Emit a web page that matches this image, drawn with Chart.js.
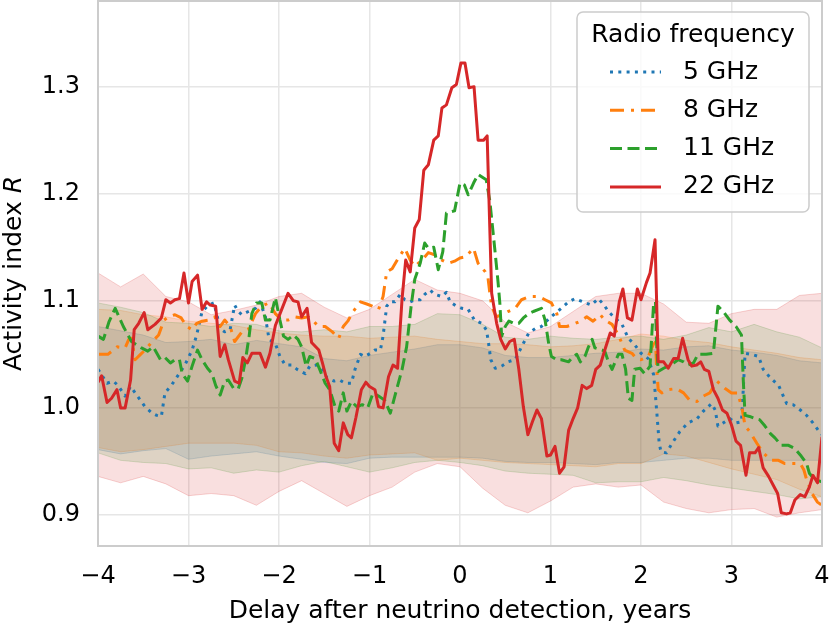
<!DOCTYPE html>
<html>
<head>
<meta charset="utf-8">
<script src="https://cdn.jsdelivr.net/npm/chart.js@4.4.1/dist/chart.umd.min.js"></script>
<style>html,body{margin:0;padding:0;background:#fff}</style>
</head>
<body>
<canvas id="graficoAtividade" width="831" height="626"></canvas>
<script>
// dados
const freqLabels = ['5 GHz', '8 GHz', '11 GHz', '22 GHz'];
const xTicks = [-4, -3, -2, -1, 0, 1, 2, 3, 4];
const yTicks = [0.9, 1.0, 1.1, 1.2, 1.3];
const xTitle = 'Delay after neutrino detection, years';
const yTitle = 'Activity index ';
const yTitleVar = 'R';
const legendTitle = 'Radio frequency';

const delay5 = [-4.0,-3.9,-3.83,-3.78,-3.7,-3.64,-3.59,-3.48,-3.4,-3.35,-3.3,-3.26,-3.19,-3.11,-3.04,-2.96,-2.91,-2.85,-2.78,-2.72,-2.69,-2.65,-2.6,-2.54,-2.49,-2.45,-2.41,-2.34,-2.26,-2.21,-2.15,-2.11,-2.04,-1.99,-1.93,-1.86,-1.8,-1.71,-1.66,-1.58,-1.52,-1.47,-1.39,-1.33,-1.27,-1.2,-1.16,-1.1,-1.05,-0.99,-0.94,-0.88,-0.85,-0.81,-0.77,-0.72,-0.66,-0.61,-0.55,-0.5,-0.44,-0.39,-0.33,-0.28,-0.2,-0.15,-0.11,-0.04,0.02,0.09,0.16,0.24,0.29,0.31,0.34,0.39,0.46,0.53,0.61,0.68,0.76,0.83,0.9,0.99,1.05,1.12,1.2,1.27,1.36,1.45,1.53,1.6,1.64,1.71,1.79,1.86,1.93,2.0,2.08,2.14,2.16,2.18,2.2,2.22,2.28,2.36,2.43,2.52,2.62,2.69,2.78,2.82,2.85,2.91,2.98,3.05,3.11,3.13,3.15,3.22,3.3,3.35,3.43,3.52,3.61,3.68,3.76,3.83,3.9,3.96,4.0];
const r5 = [1.036,1.023,1.025,1.021,1.011,1.02,1.014,1.001,0.995,0.993,0.992,1.014,1.021,1.031,1.04,1.054,1.068,1.09,1.096,1.098,1.088,1.074,1.071,1.073,1.096,1.09,1.087,1.09,1.093,1.099,1.085,1.064,1.06,1.048,1.04,1.04,1.036,1.032,1.039,1.04,1.036,1.028,1.025,1.026,1.023,1.023,1.036,1.05,1.048,1.051,1.054,1.054,1.067,1.095,1.099,1.099,1.106,1.101,1.099,1.101,1.101,1.106,1.11,1.106,1.104,1.108,1.099,1.095,1.093,1.092,1.082,1.079,1.073,1.064,1.045,1.037,1.039,1.043,1.045,1.057,1.07,1.074,1.076,1.084,1.088,1.093,1.099,1.102,1.099,1.096,1.102,1.095,1.09,1.084,1.078,1.065,1.059,1.051,1.046,1.031,1.011,0.99,0.968,0.959,0.958,0.969,0.978,0.986,0.99,0.997,1.004,0.998,0.983,0.986,0.99,0.986,0.987,1.017,1.051,1.05,1.048,1.036,1.028,1.021,1.004,1.003,0.998,0.993,0.986,0.979,0.975];

const delay8 = [-4.0,-3.89,-3.79,-3.7,-3.66,-3.63,-3.59,-3.53,-3.48,-3.4,-3.33,-3.27,-3.22,-3.15,-3.08,-3.02,-2.96,-2.91,-2.85,-2.78,-2.71,-2.65,-2.6,-2.54,-2.49,-2.41,-2.34,-2.26,-2.19,-2.11,-2.04,-1.97,-1.9,-1.82,-1.75,-1.68,-1.62,-1.56,-1.49,-1.41,-1.34,-1.29,-1.24,-1.18,-1.1,-1.03,-0.97,-0.9,-0.85,-0.81,-0.75,-0.68,-0.61,-0.55,-0.5,-0.42,-0.35,-0.28,-0.2,-0.13,-0.06,0.0,0.06,0.15,0.2,0.28,0.31,0.33,0.35,0.4,0.46,0.53,0.61,0.68,0.77,0.87,0.94,1.01,1.07,1.1,1.18,1.25,1.33,1.4,1.47,1.55,1.6,1.68,1.73,1.77,1.82,1.9,1.95,2.0,2.08,2.14,2.16,2.17,2.19,2.23,2.3,2.39,2.47,2.54,2.62,2.69,2.76,2.84,2.93,3.0,3.07,3.12,3.15,3.2,3.28,3.35,3.44,3.52,3.59,3.66,3.76,3.8,3.83,3.89,3.95,4.0];
const r8 = [1.05,1.05,1.057,1.056,1.064,1.065,1.045,1.05,1.054,1.062,1.068,1.082,1.085,1.087,1.084,1.076,1.073,1.079,1.081,1.082,1.085,1.076,1.082,1.076,1.062,1.071,1.073,1.088,1.095,1.098,1.088,1.082,1.082,1.085,1.084,1.085,1.081,1.076,1.076,1.071,1.065,1.076,1.081,1.09,1.099,1.097,1.095,1.092,1.104,1.127,1.13,1.14,1.149,1.138,1.132,1.138,1.145,1.143,1.138,1.135,1.137,1.14,1.141,1.149,1.135,1.127,1.121,1.107,1.095,1.085,1.087,1.09,1.093,1.101,1.104,1.104,1.101,1.098,1.088,1.076,1.076,1.078,1.081,1.085,1.081,1.087,1.082,1.078,1.071,1.064,1.054,1.051,1.046,1.045,1.048,1.06,1.065,1.042,1.017,1.014,1.017,1.018,1.014,1.007,1.006,1.011,1.014,1.025,1.018,1.014,1.014,0.998,0.983,0.978,0.967,0.958,0.951,0.951,0.948,0.948,0.948,0.942,0.933,0.92,0.912,0.909];

const delay11 = [-4.0,-3.94,-3.88,-3.81,-3.72,-3.63,-3.52,-3.45,-3.39,-3.31,-3.26,-3.2,-3.15,-3.1,-3.07,-3.01,-2.96,-2.9,-2.85,-2.79,-2.74,-2.7,-2.65,-2.6,-2.56,-2.5,-2.45,-2.41,-2.37,-2.33,-2.3,-2.25,-2.19,-2.15,-2.1,-2.04,-1.99,-1.95,-1.9,-1.84,-1.79,-1.75,-1.7,-1.66,-1.6,-1.55,-1.49,-1.44,-1.38,-1.34,-1.29,-1.25,-1.2,-1.14,-1.08,-1.02,-0.96,-0.9,-0.83,-0.77,-0.72,-0.64,-0.59,-0.54,-0.5,-0.44,-0.39,-0.35,-0.29,-0.24,-0.19,-0.15,-0.06,0.0,0.05,0.09,0.15,0.2,0.29,0.33,0.38,0.42,0.44,0.46,0.5,0.54,0.59,0.65,0.7,0.76,0.81,0.87,0.9,0.94,0.98,1.01,1.07,1.12,1.2,1.25,1.29,1.33,1.38,1.42,1.46,1.49,1.57,1.6,1.64,1.68,1.71,1.75,1.79,1.83,1.86,1.9,1.93,1.99,2.04,2.1,2.14,2.16,2.17,2.19,2.25,2.3,2.36,2.41,2.47,2.52,2.58,2.63,2.72,2.8,2.85,2.91,2.98,3.05,3.11,3.13,3.15,3.2,3.26,3.31,3.37,3.43,3.48,3.55,3.63,3.7,3.77,3.83,3.86,3.92,4.0];
const r11 = [1.067,1.064,1.08,1.093,1.076,1.062,1.056,1.053,1.057,1.045,1.047,1.042,1.045,1.045,1.032,1.025,1.039,1.054,1.045,1.037,1.032,1.021,1.012,1.025,1.026,1.018,1.018,1.028,1.045,1.067,1.088,1.098,1.098,1.082,1.082,1.103,1.082,1.067,1.064,1.068,1.064,1.057,1.039,1.048,1.046,1.036,1.023,1.017,1.001,0.997,1.014,0.997,1.006,1.001,1.003,1.0,1.014,1.011,1.007,0.995,1.011,1.036,1.057,1.095,1.12,1.135,1.154,1.149,1.15,1.129,1.146,1.182,1.184,1.21,1.208,1.199,1.21,1.218,1.213,1.193,1.152,1.118,1.098,1.067,1.076,1.081,1.079,1.079,1.084,1.088,1.09,1.092,1.093,1.082,1.06,1.048,1.045,1.045,1.043,1.048,1.05,1.043,1.048,1.057,1.064,1.056,1.054,1.053,1.043,1.036,1.042,1.05,1.05,1.036,1.009,1.007,1.036,1.037,1.032,1.039,1.099,1.099,1.064,1.034,1.037,1.039,1.042,1.045,1.043,1.04,1.042,1.05,1.05,1.051,1.095,1.09,1.082,1.076,1.068,1.026,0.993,0.992,0.99,0.989,0.983,0.976,0.972,0.965,0.965,0.962,0.955,0.948,0.939,0.933,0.931];

const delay22 = [-4.0,-3.96,-3.9,-3.85,-3.79,-3.75,-3.7,-3.64,-3.6,-3.55,-3.49,-3.45,-3.37,-3.3,-3.25,-3.2,-3.15,-3.1,-3.05,-3.0,-2.96,-2.9,-2.85,-2.8,-2.76,-2.7,-2.65,-2.6,-2.56,-2.49,-2.44,-2.4,-2.35,-2.3,-2.21,-2.15,-2.1,-2.04,-1.97,-1.9,-1.84,-1.79,-1.75,-1.69,-1.64,-1.56,-1.52,-1.48,-1.44,-1.39,-1.34,-1.29,-1.24,-1.2,-1.15,-1.09,-1.04,-1.0,-0.94,-0.9,-0.85,-0.79,-0.74,-0.69,-0.64,-0.6,-0.55,-0.5,-0.45,-0.4,-0.35,-0.29,-0.24,-0.2,-0.15,-0.09,-0.04,0.01,0.055,0.1,0.155,0.2,0.26,0.3,0.35,0.405,0.45,0.5,0.55,0.6,0.65,0.7,0.75,0.8,0.85,0.9,0.96,1.0,1.05,1.1,1.15,1.2,1.25,1.3,1.35,1.4,1.455,1.5,1.55,1.6,1.66,1.705,1.76,1.8,1.85,1.9,1.96,2.0,2.06,2.1,2.155,2.19,2.25,2.3,2.36,2.41,2.46,2.52,2.56,2.615,2.66,2.7,2.75,2.8,2.85,2.9,2.95,3.0,3.05,3.1,3.16,3.2,3.26,3.3,3.35,3.41,3.46,3.51,3.55,3.61,3.65,3.7,3.76,3.81,3.86,3.9,3.95,4.0];
const r22 = [1.024,1.03,1.005,1.009,1.017,1.0,1.0,1.026,1.073,1.079,1.089,1.073,1.078,1.084,1.101,1.098,1.101,1.102,1.126,1.098,1.118,1.124,1.092,1.099,1.096,1.095,1.048,1.059,1.045,1.025,1.023,1.047,1.042,1.051,1.051,1.038,1.051,1.077,1.092,1.107,1.1,1.099,1.085,1.093,1.061,1.054,1.042,1.029,1.02,0.967,0.96,0.986,0.975,0.972,0.991,1.017,1.024,1.02,1.017,1.001,1.0,1.029,1.04,1.037,1.102,1.138,1.127,1.168,1.176,1.222,1.227,1.25,1.254,1.28,1.283,1.299,1.302,1.322,1.322,1.299,1.3,1.25,1.25,1.254,1.107,1.079,1.064,1.055,1.062,1.064,1.036,1.001,0.975,0.987,0.998,0.99,0.955,0.956,0.964,0.939,0.945,0.979,0.99,1.0,1.021,1.018,1.021,1.036,1.04,1.054,1.07,1.067,1.099,1.111,1.084,1.082,1.111,1.101,1.117,1.126,1.157,1.043,1.043,1.037,1.046,1.046,1.065,1.045,1.039,1.04,1.043,1.036,1.034,1.017,1.009,0.998,0.995,0.984,0.969,0.965,0.937,0.958,0.958,0.963,0.944,0.936,0.928,0.92,0.902,0.901,0.902,0.914,0.919,0.917,0.926,0.937,0.93,0.973];

// faixas (intervalo de confianca) de cada frequencia
const bandDelay = [-4,-3.75,-3.5,-3.25,-3,-2.75,-2.5,-2.25,-2,-1.75,-1.5,-1.25,-1,-0.75,-0.5,-0.25,0,0.25,0.5,0.75,1,1.25,1.5,1.75,2,2.25,2.5,2.75,3,3.25,3.5,3.75,4];
const upper5 = [1.076,1.072,1.068,1.061,1.062,1.064,1.059,1.063,1.06,1.057,1.046,1.044,1.049,1.052,1.055,1.059,1.059,1.056,1.049,1.047,1.047,1.049,1.051,1.052,1.055,1.054,1.057,1.058,1.054,1.052,1.049,1.044,1.042];
const lower5 = [0.961,0.957,0.96,0.962,0.952,0.955,0.957,0.959,0.955,0.952,0.949,0.948,0.953,0.954,0.954,0.954,0.954,0.953,0.95,0.949,0.949,0.948,0.947,0.949,0.949,0.951,0.953,0.953,0.951,0.951,0.951,0.951,0.951];
const upper8 = [1.092,1.091,1.087,1.085,1.081,1.079,1.077,1.073,1.07,1.068,1.067,1.067,1.065,1.066,1.067,1.064,1.062,1.06,1.06,1.059,1.057,1.058,1.06,1.064,1.069,1.067,1.063,1.061,1.057,1.054,1.051,1.047,1.045];
const lower8 = [0.963,0.959,0.961,0.964,0.967,0.967,0.967,0.965,0.959,0.958,0.955,0.953,0.956,0.957,0.958,0.951,0.953,0.951,0.949,0.948,0.947,0.946,0.945,0.948,0.948,0.957,0.955,0.949,0.943,0.938,0.933,0.924,0.917];
const upper11 = [1.098,1.094,1.089,1.08,1.079,1.076,1.079,1.078,1.072,1.071,1.073,1.071,1.076,1.076,1.078,1.088,1.087,1.078,1.066,1.064,1.067,1.065,1.064,1.066,1.067,1.064,1.068,1.075,1.071,1.078,1.071,1.066,1.056];
const lower11 = [0.958,0.951,0.949,0.948,0.943,0.944,0.939,0.942,0.94,0.946,0.95,0.945,0.94,0.944,0.949,0.951,0.949,0.946,0.941,0.939,0.938,0.937,0.93,0.931,0.931,0.935,0.932,0.928,0.925,0.922,0.919,0.915,0.917];
const upper22 = [1.126,1.113,1.125,1.104,1.099,1.087,1.091,1.096,1.104,1.107,1.094,1.084,1.092,1.106,1.12,1.11,1.107,1.1,1.08,1.07,1.076,1.09,1.104,1.107,1.107,1.097,1.08,1.079,1.088,1.092,1.092,1.105,1.107];
const lower22 = [0.936,0.93,0.936,0.929,0.918,0.92,0.918,0.909,0.922,0.932,0.92,0.908,0.918,0.926,0.94,0.948,0.945,0.925,0.909,0.902,0.913,0.926,0.929,0.926,0.928,0.912,0.906,0.902,0.905,0.906,0.898,0.902,0.905];

// cores padrao (tab10)
const cores = ['31,119,180', '255,127,14', '44,160,44', '214,39,40'];
const tracos = [[3, 5.3], [14, 7, 3, 7], [12, 5.5], []];
const fonte = '"DejaVu Sans", sans-serif';

function pontos(xs, ys) {
  return xs.map((x, i) => ({ x: x, y: ys[i] }));
}

const linhasX = [delay5, delay8, delay11, delay22];
const linhasY = [r5, r8, r11, r22];
const faixasSup = [upper5, upper8, upper11, upper22];
const faixasInf = [lower5, lower8, lower11, lower22];

let datasets = [];
for (let k = 0; k < 4; k++) {
  datasets.push({
    label: 'band_up_' + k,
    data: pontos(bandDelay, faixasSup[k]),
    borderColor: 'rgba(' + cores[k] + ',0.2)',
    backgroundColor: 'rgba(' + cores[k] + ',0.15)',
    borderWidth: 1,
    fill: '+1',
    order: 20 - k
  });
  datasets.push({
    label: 'band_lo_' + k,
    data: pontos(bandDelay, faixasInf[k]),
    borderColor: 'rgba(' + cores[k] + ',0.2)',
    borderWidth: 1,
    fill: false,
    order: 20 - k
  });
}
for (let k = 0; k < 4; k++) {
  datasets.push({
    label: freqLabels[k],
    data: pontos(linhasX[k], linhasY[k]),
    borderColor: 'rgb(' + cores[k] + ')',
    borderWidth: 3,
    borderDash: tracos[k],
    fill: false,
    order: 4 - k
  });
}

// moldura, titulo do eixo y e legenda
const extras = {
  id: 'extras',
  afterDraw(chart) {
    const ctx = chart.ctx;
    const a = chart.chartArea;
    ctx.save();
    ctx.strokeStyle = '#cccccc';
    ctx.lineWidth = 2;
    ctx.strokeRect(a.left, a.top, a.right - a.left, a.bottom - a.top);

    // titulo y com R em italico
    ctx.save();
    ctx.translate(20.5, (a.top + a.bottom) / 2);
    ctx.rotate(-Math.PI / 2);
    ctx.fillStyle = '#000';
    ctx.textBaseline = 'alphabetic';
    ctx.textAlign = 'left';
    ctx.font = '25px ' + fonte;
    const w1 = ctx.measureText(yTitle).width;
    ctx.font = 'italic 25px ' + fonte;
    const w2 = ctx.measureText(yTitleVar).width;
    const x0 = -(w1 + w2) / 2;
    ctx.font = '25px ' + fonte;
    ctx.fillText(yTitle, x0, 0);
    ctx.font = 'italic 25px ' + fonte;
    ctx.fillText(yTitleVar, x0 + w1, 0);
    ctx.restore();

    // legenda
    const bx = a.right - 245, by = a.top + 11, bw = 232, bh = 200;
    ctx.beginPath();
    ctx.roundRect(bx, by, bw, bh, 6);
    ctx.fillStyle = 'rgba(255,255,255,0.8)';
    ctx.fill();
    ctx.strokeStyle = '#cccccc';
    ctx.lineWidth = 1.5;
    ctx.stroke();
    ctx.fillStyle = '#000';
    ctx.font = '25px ' + fonte;
    ctx.textAlign = 'center';
    ctx.textBaseline = 'middle';
    ctx.fillText(legendTitle, bx + bw / 2, by + 23);
    ctx.textAlign = 'left';
    for (let k = 0; k < 4; k++) {
      const yy = by + 60 + k * 38.3;
      ctx.strokeStyle = 'rgb(' + cores[k] + ')';
      ctx.lineWidth = 3;
      ctx.setLineDash(tracos[k]);
      ctx.beginPath();
      ctx.moveTo(bx + 33, yy);
      ctx.lineTo(bx + 84, yy);
      ctx.stroke();
      ctx.setLineDash([]);
      ctx.fillText(freqLabels[k], bx + 106, yy);
    }
    ctx.restore();
  }
};

const ctx = document.getElementById('graficoAtividade');

new Chart(ctx, {
  type: 'line',
  data: { datasets: datasets },
  options: {
    responsive: false,
    animation: false,
    devicePixelRatio: 1,
    layout: { padding: { top: 1, right: 9, left: 0, bottom: 0 } },
    elements: {
      point: { radius: 0, hoverRadius: 0 },
      line: { tension: 0, borderCapStyle: 'butt', borderJoinStyle: 'round' }
    },
    plugins: {
      legend: { display: false },
      tooltip: { enabled: false }
    },
    scales: {
      x: {
        type: 'linear',
        min: -4,
        max: 4,
        afterBuildTicks: s => { s.ticks = xTicks.map(v => ({ value: v })); },
        afterFit: s => { s.height = 80; s.paddingLeft = 0; s.paddingRight = 0; },
        grid: { color: '#e6e6e6', lineWidth: 1.5, drawTicks: false },
        border: { display: false },
        ticks: {
          padding: 16,
          color: '#000',
          maxRotation: 0,
          autoSkip: false,
          font: { family: fonte, size: 24 },
          callback: v => (v < 0 ? '\u2212' + Math.abs(v) : String(v))
        },
        title: {
          display: true,
          text: xTitle,
          color: '#000',
          font: { family: fonte, size: 25 },
          padding: { top: 0, bottom: 0 }
        }
      },
      y: {
        type: 'linear',
        min: 0.871,
        max: 1.380,
        afterBuildTicks: s => { s.ticks = yTicks.map(v => ({ value: v })); },
        afterFit: s => { s.width = 98; s.paddingTop = 0; s.paddingBottom = 0; },
        grid: { color: '#e6e6e6', lineWidth: 1.5, drawTicks: false },
        border: { display: false },
        ticks: {
          padding: 18,
          color: '#000',
          font: { family: fonte, size: 24 },
          callback: v => v.toFixed(1)
        }
      }
    }
  },
  plugins: [extras]
});
</script>
</body>
</html>
